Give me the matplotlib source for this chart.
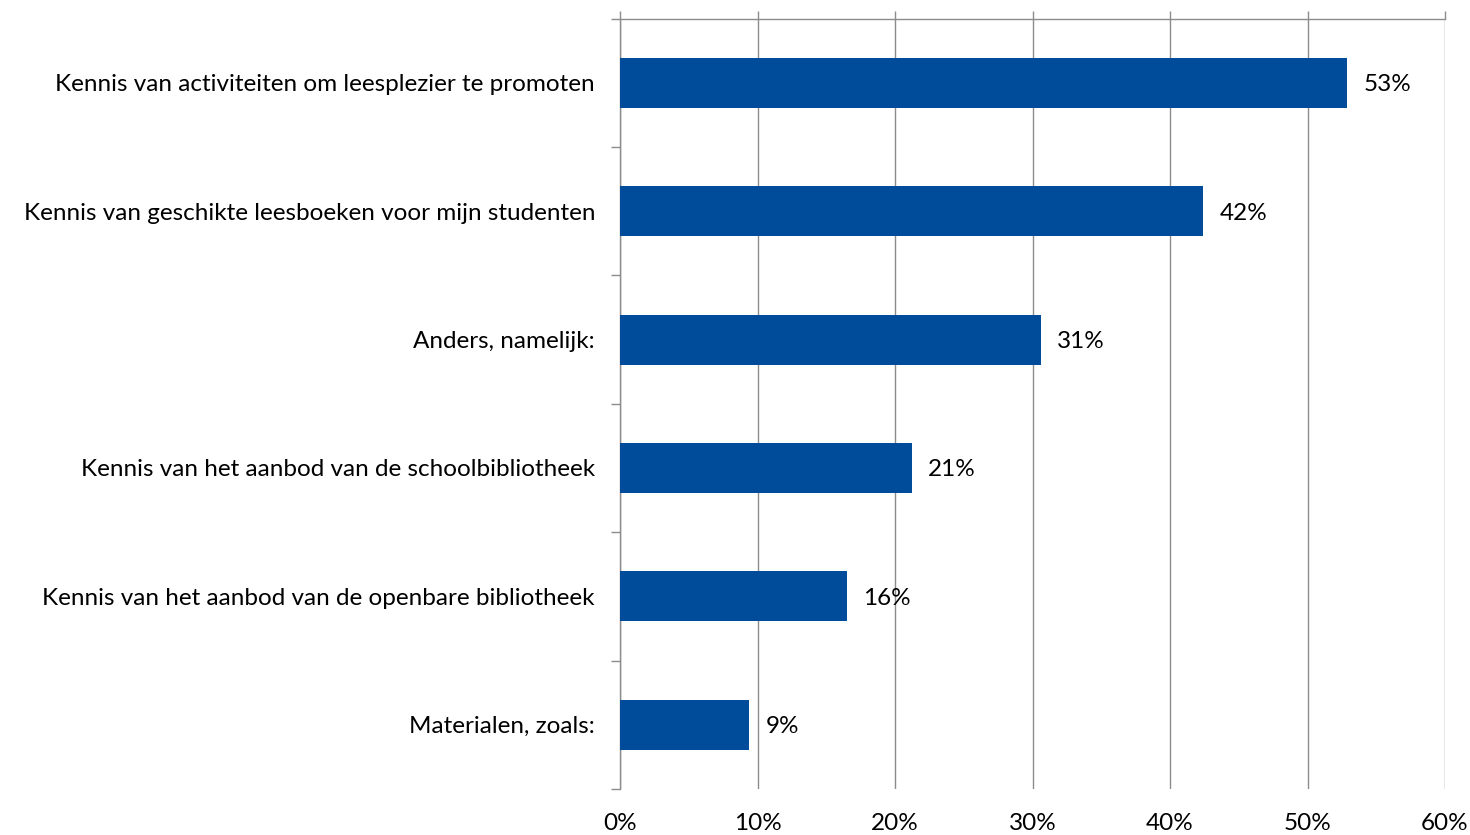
import matplotlib
matplotlib.use("Agg")
import matplotlib.pyplot as plt
import numpy as np

categories = [
    "Kennis van activiteiten om leesplezier te promoten",
    "Kennis van geschikte leesboeken voor mijn studenten",
    "Anders, namelijk:",
    "Kennis van het aanbod van de schoolbibliotheek",
    "Kennis van het aanbod van de openbare bibliotheek",
    "Materialen, zoals:",
]
values = [52.9, 42.4, 30.6, 21.2, 16.5, 9.4]
labels = ["53%", "42%", "31%", "21%", "16%", "9%"]
xticks = [0, 10, 20, 30, 40, 50, 60]
xticklabels = ["0%", "10%", "20%", "30%", "40%", "50%", "60%"]

plt.rcParams['font.family'] = ['Lato', 'DejaVu Sans']
FS = 17.5

fig = plt.figure(figsize=(14.7, 8.35), dpi=100)
ax = fig.add_axes([620/1470, 1-789/835, (1445-620)/1470, (789-18.5)/835])

y = np.arange(len(categories))
ax.barh(y, values, height=0.39, color="#004C9B", zorder=3)
ax.set_ylim(len(categories)-0.5, -0.5)
ax.set_xlim(0, 60)

for yi, v, lab in zip(y, values, labels):
    ax.annotate(lab, (v, yi), xytext=(12, 0), textcoords="offset points",
                ha="left", va="center_baseline", fontsize=FS, color="black")

grid_c = "#8c8c8c"
ax.set_xticks(xticks)
ax.set_xticklabels(xticklabels, fontsize=FS)
ax.xaxis.grid(True, color=grid_c, linewidth=1.0, zorder=0)
ax.tick_params(axis='x', bottom=False, top=True, labelbottom=True, labeltop=False,
               direction='out', length=6, width=1.0, color=grid_c, pad=11)

ax.set_yticks(y)
ax.set_yticklabels(categories, fontsize=FS, va="center_baseline")
ax.set_yticks(np.arange(-0.5, len(categories)), minor=True)
ax.tick_params(axis='y', which='major', length=0, pad=18)
ax.tick_params(axis='y', which='minor', length=6.5, width=1.0, color=grid_c, direction='out')

for s in ['right', 'bottom']:
    ax.spines[s].set_visible(False)
for s in ['left', 'top']:
    ax.spines[s].set_color(grid_c)
    ax.spines[s].set_linewidth(1.0)

fig.savefig("out.png", dpi=100, facecolor="white")
